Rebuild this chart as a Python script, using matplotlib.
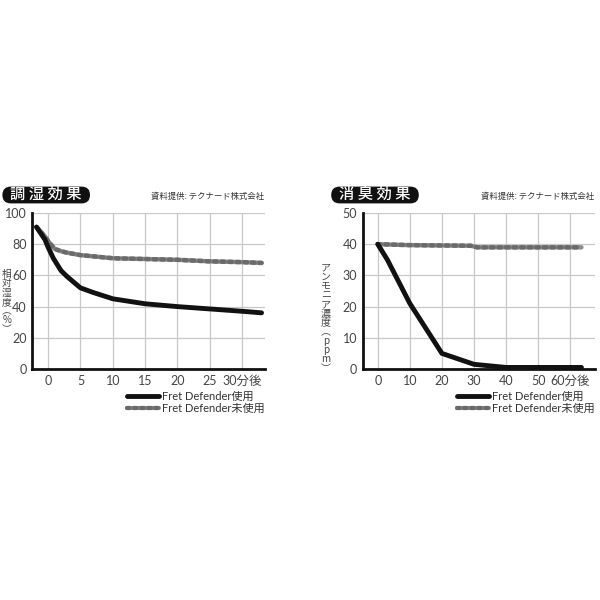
import matplotlib
matplotlib.use("Agg")
import matplotlib.pyplot as plt
from matplotlib.patches import FancyBboxPatch
from matplotlib.lines import Line2D

plt.rcParams['font.family'] = ['Lato', 'Noto Sans CJK JP', 'DejaVu Sans']
CJK = ['Noto Sans CJK JP', 'DejaVu Sans']

# Humidity chart data
hum_x = [-1.8, -0.5, 0, 0.8, 2, 3, 5, 7, 10, 15, 20, 25, 30, 33]
hum_with = [91, 83, 78, 71, 63, 59, 52, 49, 45, 41.8, 40, 38.5, 37, 36]
hum_x2 = [-1.8, -0.5, 0, 1, 2, 3, 5, 10, 15, 20, 25, 30, 33]
hum_without = [91, 85, 82, 77, 75.5, 74.5, 73, 71, 70.5, 70, 69, 68.5, 68]
hum_xticks = [0, 5, 10, 15, 20, 25, 30]
hum_xlabels = ['0', '5', '10', '15', '20', '25', '30分後']
hum_yticks = [0, 20, 40, 60, 80, 100]

# Ammonia chart data
amm_x = [0, 3, 10, 20, 30, 40, 63.5]
amm_with = [40, 35, 21, 5, 1.5, 0.5, 0.5]
amm_x2 = [0, 10, 20, 29, 31, 40, 50, 63.5]
amm_without = [40, 39.7, 39.6, 39.5, 39, 39, 39, 39]
amm_xticks = [0, 10, 20, 30, 40, 50, 60]
amm_xlabels = ['0', '10', '20', '30', '40', '50', '60分後']
amm_yticks = [0, 10, 20, 30, 40, 50]

legend_labels = ['Fret Defender使用', 'Fret Defender未使用']
source_text = '資料提供: テクナード株式会社'

fig = plt.figure(figsize=(6, 6), dpi=100)
fig.patch.set_facecolor('white')

def draw_gray(ax, x, y):
    ax.plot(x, y, color='#8c8c8c', lw=3.2, solid_capstyle='round', zorder=3)
    ax.plot(x, y, color='#6a6a6a', lw=3.2, linestyle=(0, (0.6, 1.1)),
            dash_capstyle='round', zorder=4)

def setup(ax, xlim, ylim, xticks, xlabels, yticks):
    ax.set_xlim(*xlim)
    ax.set_ylim(*ylim)
    ax.set_xticks(xticks)
    ax.set_xticklabels(xlabels)
    ax.set_yticks(yticks)
    ax.grid(True, color='#c8c8c8', lw=0.9)
    ax.set_axisbelow(True)
    for s in ['top', 'right']:
        ax.spines[s].set_visible(False)
    for s in ['left', 'bottom']:
        ax.spines[s].set_linewidth(2.0)
        ax.spines[s].set_color('#111111')
        ax.spines[s].set_zorder(5)
    ax.tick_params(length=0, labelsize=9, colors='#444444', pad=4)

def header(x0, title, srcx):
    box = FancyBboxPatch((x0, 0.661), 0.146, 0.028,
                         boxstyle="round,pad=0,rounding_size=0.014",
                         transform=fig.transFigure, facecolor='#111111',
                         edgecolor='none')
    fig.patches.append(box)
    fig.text(x0 + 0.073, 0.6755, ' '.join(list(title)),
             color='white', fontsize=11, fontweight='medium', family=CJK,
             ha='center', va='center')
    fig.text(srcx, 0.672, source_text, fontsize=6, color='#333333', family=CJK,
             ha='right', va='center')

def legend(xline0, xline1, xtext, y0):
    fig.add_artist(Line2D([xline0, xline1], [y0, y0], transform=fig.transFigure,
                          color='#111111', lw=3.5, solid_capstyle='round'))
    fig.add_artist(Line2D([xline0, xline1], [y0 - 0.02, y0 - 0.02],
                          transform=fig.transFigure, color='#8c8c8c', lw=3,
                          solid_capstyle='round'))
    fig.add_artist(Line2D([xline0, xline1], [y0 - 0.02, y0 - 0.02],
                          transform=fig.transFigure, color='#6a6a6a', lw=3,
                          linestyle=(0, (0.6, 1.1)), dash_capstyle='round'))
    for i, lab in enumerate(legend_labels):
        fig.text(xtext, y0 - 0.02 * i, lab, fontsize=8, color='#333333',
                 ha='left', va='center')

# Left chart
ax1 = fig.add_axes([0.0533, 0.385, 0.388, 0.26])
setup(ax1, (-2.5, 33.5), (0, 100), hum_xticks, hum_xlabels, hum_yticks)
draw_gray(ax1, hum_x2, hum_without)
ax1.plot(hum_x, hum_with, color='#111111', lw=3.5, solid_capstyle='round', zorder=6)
header(0.004, '調湿効果', 0.44)
fig.text(0.011, 0.497, '相\n対\n湿\n度\n︵\n%\n︶', fontsize=7, color='#444444',
         family=CJK, ha='center', va='center', linespacing=0.9)
legend(0.212, 0.265, 0.27, 0.34)

# Right chart
ax2 = fig.add_axes([0.6045, 0.385, 0.387, 0.26])
setup(ax2, (-4.7, 67.7), (0, 50), amm_xticks, amm_xlabels, amm_yticks)
draw_gray(ax2, amm_x2, amm_without)
ax2.plot(amm_x, amm_with, color='#111111', lw=3.5, solid_capstyle='round', zorder=6)
header(0.552, '消臭効果', 0.99)
fig.text(0.543, 0.47, 'ア\nン\nモ\nニ\nア\n濃\n度\n︵\np\np\nm\n︶', fontsize=7.2,
         color='#444444', family=CJK, ha='center', va='center', linespacing=0.9)
legend(0.762, 0.815, 0.82, 0.34)

fig.savefig('out.png', dpi=100, facecolor='white')
